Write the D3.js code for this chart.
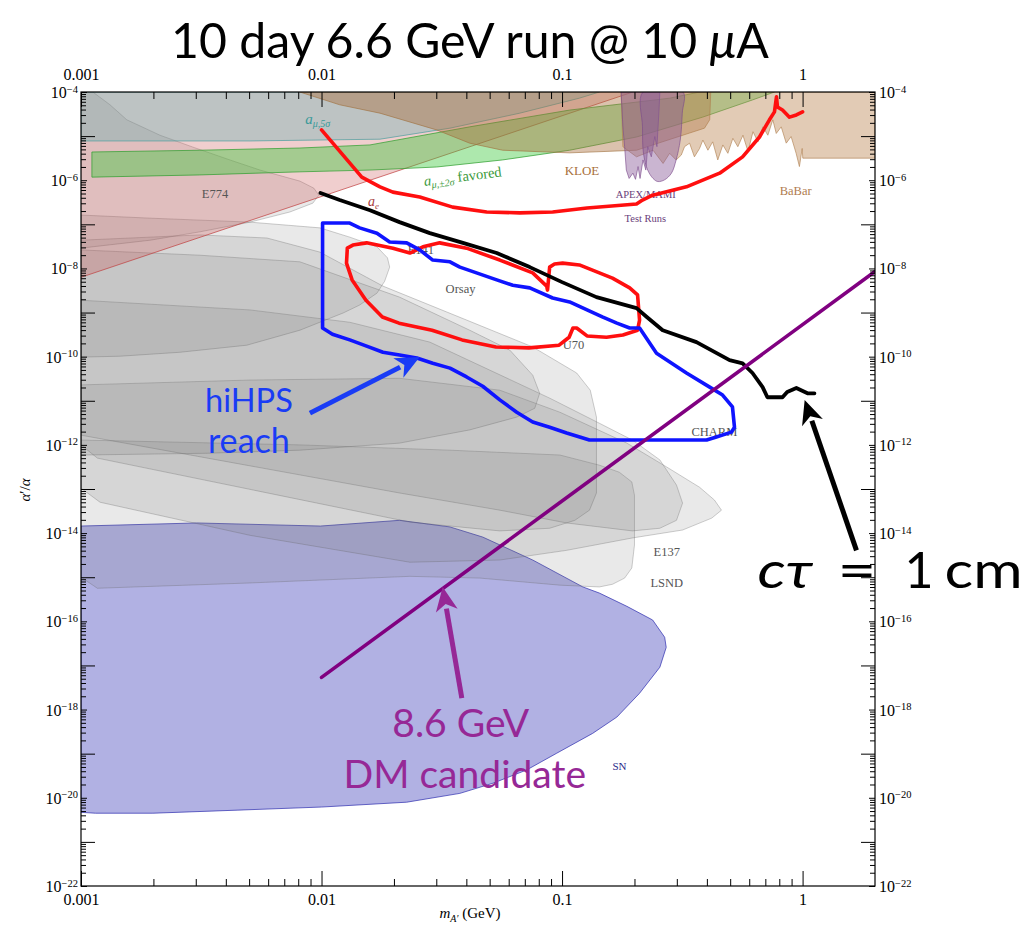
<!DOCTYPE html>
<html>
<head>
<meta charset="utf-8">
<script src="https://cdn.jsdelivr.net/npm/d3@7"></script>
<style>
  body { margin: 0; background: #fff; }
  text { font-family: "Liberation Serif", "DejaVu Serif", serif; }
  .gill { font-family: Lato, "Open Sans", sans-serif; }
</style>
</head>
<body>
<svg id="chart" width="1029" height="932"></svg>
<script>
// ---- Data: dark photon parameter space, mass m_A' in GeV, coupling as log10(alpha'/alpha) ----

const massMajorTicks = [0.001, 0.01, 0.1, 1];
const massTickLabels = ["0.001", "0.01", "0.1", "1"];
const couplingLabelExponents = [-4, -6, -8, -10, -12, -14, -16, -18, -20, -22];

// Existing constraints (closed outlines) [mass GeV, log10 alpha'/alpha]
const aeRegion = [[0.001, -4.0], [0.197, -4.0], [0.001, -8.2]];
const aeBoundary = [[0.001, -8.2], [0.197, -4.0]];

const amu5sigma = [[0.001, -4.0], [0.143, -4.0], [0.118, -4.14], [0.0667, -4.48], [0.0342, -4.82],
  [0.0175, -5.07], [0.00504, -5.11], [0.001, -5.11]];

const amuFavored = [[0.00111, -5.36], [0.00312, -5.32], [0.00813, -5.27], [0.0159, -5.20], [0.0413, -4.79],
  [0.1075, -4.41], [0.280, -4.14], [0.373, -4.0], [0.764, -4.0], [0.619, -4.18], [0.384, -4.57],
  [0.204, -5.02], [0.1075, -5.32], [0.0566, -5.54], [0.0301, -5.70], [0.0159, -5.77], [0.00813, -5.81],
  [0.00312, -5.88], [0.00111, -5.93]];

const kloeRegion = [[0.00812, -4.0], [0.0119, -4.29], [0.0175, -4.48], [0.0301, -4.86], [0.0413, -5.16],
  [0.0566, -5.32], [0.1075, -5.38], [0.204, -5.32], [0.339, -4.93], [0.391, -4.82], [0.411, -4.63], [0.415, -4.0]];

const babarRegion = [[0.176, -4.0], [0.179, -5.24], [0.204, -5.47], [0.239, -5.32], [0.263, -5.62], [0.280, -5.39],
  [0.298, -5.54], [0.313, -5.43], [0.323, -5.24], [0.339, -5.16], [0.355, -5.47], [0.373, -5.28], [0.385, -5.09],
  [0.404, -5.32], [0.423, -5.13], [0.444, -5.54], [0.466, -5.20], [0.489, -5.39], [0.513, -5.05], [0.538, -5.24],
  [0.565, -4.98], [0.593, -5.35], [0.622, -4.90], [0.652, -5.13], [0.684, -4.79], [0.717, -4.98], [0.752, -4.63],
  [0.777, -4.94], [0.815, -4.79], [0.855, -5.16], [0.896, -5.01], [0.940, -5.39], [0.970, -5.69], [0.996, -5.28],
  [1.002, -5.50], [2.0, -5.50], [2.0, -4.0]];

const apexRegion = [[0.176, -4.0], [0.179, -4.79], [0.182, -5.24], [0.185, -5.77], [0.190, -5.96], [0.197, -5.84],
  [0.202, -5.98], [0.207, -5.69], [0.211, -5.96], [0.217, -5.54], [0.223, -5.77], [0.227, -5.24], [0.235, -5.47],
  [0.243, -5.01], [0.248, -5.24], [0.253, -4.41], [0.255, -4.0]];

const mamiRegion = [[0.217, -4.0], [0.216, -4.79], [0.218, -5.39], [0.227, -5.77], [0.239, -5.96], [0.250, -6.03],
  [0.267, -5.99], [0.285, -5.84], [0.298, -5.54], [0.310, -5.09], [0.316, -4.48], [0.318, -4.0]];

const snRegion = [[0.001, -13.84], [0.00303, -13.77], [0.0099, -13.84], [0.0211, -13.71], [0.0342, -13.86],
  [0.0468, -14.09], [0.0755, -14.61], [0.122, -15.22], [0.143, -15.36], [0.186, -15.66], [0.238, -15.97],
  [0.267, -16.36], [0.271, -16.59], [0.255, -17.04], [0.210, -17.63], [0.169, -18.17], [0.134, -18.54],
  [0.095, -18.99], [0.0712, -19.37], [0.0516, -19.67], [0.0376, -19.90], [0.0226, -20.10], [0.0100, -20.21],
  [0.00449, -20.28], [0.00199, -20.35], [0.00115, -20.35], [0.001, -20.33]];

// Beam-dump exclusions
const e774Region = [[0.001, -4.0], [0.00112, -4.0], [0.00132, -4.29], [0.00155, -4.63], [0.00213, -4.98],
  [0.00292, -5.25], [0.00416, -5.54], [0.00555, -5.77], [0.00813, -6.02], [0.00929, -6.18], [0.00975, -6.34],
  [0.0092, -6.52], [0.00739, -6.72], [0.00504, -6.95], [0.00312, -7.17], [0.00194, -7.36], [0.0012, -7.49], [0.001, -7.54]];

const e141Region = [[0.001, -6.79], [0.00194, -6.86], [0.00504, -6.95], [0.00985, -7.08], [0.0131, -7.29],
  [0.0170, -7.51], [0.0188, -7.76], [0.0192, -7.97], [0.0183, -8.29], [0.0170, -8.56], [0.0144, -8.83],
  [0.0123, -9.01], [0.00813, -9.40], [0.00489, -9.74], [0.00258, -9.90], [0.00145, -9.99], [0.001, -10.01]];

const orsayRegion = [[0.001, -7.58], [0.00312, -7.70], [0.00813, -7.85], [0.0211, -8.65], [0.0413, -9.40],
  [0.0606, -9.85], [0.0755, -10.42], [0.0807, -10.83], [0.077, -11.17], [0.0648, -11.37], [0.0413, -11.66],
  [0.0211, -11.96], [0.00813, -12.12], [0.00334, -12.19], [0.001, -12.23]];

const u70Region = [[0.001, -7.36], [0.00312, -7.24], [0.00593, -7.31], [0.00985, -7.63], [0.0180, -8.40],
  [0.0401, -9.17], [0.0755, -9.78], [0.115, -10.37], [0.131, -10.76], [0.139, -11.37], [0.139, -13.09],
  [0.130, -13.48], [0.113, -13.71], [0.0888, -13.89], [0.0551, -13.95], [0.0233, -13.75], [0.00117, -12.30], [0.001, -12.00]];

const charmRegion = [[0.001, -8.72], [0.00504, -8.94], [0.0131, -9.22], [0.0282, -9.67], [0.0888, -10.94], [0.143, -11.51],
  [0.196, -11.89], [0.255, -12.34], [0.299, -12.91], [0.317, -13.32], [0.299, -13.71], [0.255, -13.89],
  [0.196, -13.95], [0.1045, -13.77], [0.0551, -13.48], [0.0211, -13.09], [0.001, -11.78]];

const e137Region = [[0.001, -10.64], [0.00504, -10.53], [0.0211, -10.49], [0.0551, -10.76], [0.098, -11.26], [0.186, -11.96],
  [0.272, -12.50], [0.373, -12.96], [0.430, -13.25], [0.460, -13.48], [0.419, -13.66], [0.317, -13.93],
  [0.196, -14.11], [0.1045, -14.39], [0.0551, -14.61], [0.0233, -14.66], [0.00504, -14.05], [0.0012, -13.30], [0.001, -12.98]];

const lsndRegion = [[0.001, -11.89], [0.00813, -12.0], [0.0342, -12.12], [0.098, -12.23], [0.143, -12.46],
  [0.173, -12.62], [0.195, -12.84], [0.200, -13.14], [0.200, -14.27], [0.195, -14.79], [0.182, -15.02],
  [0.162, -15.16], [0.143, -15.22], [0.098, -15.18], [0.0456, -15.02], [0.0233, -14.98], [0.00504, -15.13],
  [0.00117, -15.25], [0.001, -15.00]];

// Projected reaches
const hpsUpperReach = [[0.0100, -4.86], [0.0147, -5.93], [0.0175, -6.15], [0.0198, -6.27], [0.0256, -6.38],
  [0.0351, -6.61], [0.0486, -6.72], [0.0667, -6.74], [0.0914, -6.72], [0.127, -6.63], [0.204, -6.54],
  [0.216, -6.45], [0.238, -6.34], [0.329, -6.15], [0.452, -5.84], [0.563, -5.47], [0.662, -5.02],
  [0.728, -4.63], [0.764, -4.45], [0.779, -4.11], [0.786, -4.34], [0.825, -4.41], [0.882, -4.57],
  [0.942, -4.52], [1.0, -4.45]];

const hpsDisplacedReach = [[0.0135, -7.47], [0.0154, -7.42], [0.0198, -7.54], [0.0233, -7.65], [0.0264, -7.51],
  [0.0310, -7.42], [0.0401, -7.54], [0.0551, -7.81], [0.0755, -8.10], [0.0863, -8.40], [0.087, -8.49],
  [0.0888, -7.97], [0.093, -7.90], [0.1006, -7.88], [0.118, -7.92], [0.162, -8.22], [0.191, -8.44],
  [0.206, -8.60], [0.210, -9.17], [0.206, -9.40], [0.179, -9.51], [0.153, -9.56], [0.127, -9.53],
  [0.115, -9.35], [0.111, -9.35], [0.107, -9.56], [0.0972, -9.74], [0.0728, -9.80], [0.0531, -9.78],
  [0.0384, -9.62], [0.0288, -9.40], [0.0210, -9.24], [0.0179, -9.10], [0.0153, -8.72], [0.0134, -8.26],
  [0.0127, -7.88], [0.0128, -7.54]];

const hiHpsReach = [[0.0101, -6.97], [0.0131, -6.97], [0.0144, -7.08], [0.0170, -7.20], [0.0192, -7.40],
  [0.0226, -7.42], [0.0256, -7.58], [0.0290, -7.81], [0.0342, -7.85], [0.0376, -7.97], [0.0441, -8.10],
  [0.0535, -8.26], [0.0624, -8.38], [0.0734, -8.44], [0.0914, -8.67], [0.1075, -8.76], [0.127, -8.94],
  [0.147, -9.10], [0.169, -9.24], [0.191, -9.35], [0.210, -9.35], [0.247, -9.92], [0.329, -10.37],
  [0.411, -10.69], [0.465, -10.87], [0.511, -11.14], [0.521, -11.60], [0.506, -11.71], [0.438, -11.82],
  [0.399, -11.89], [0.130, -11.89], [0.1045, -11.73], [0.0888, -11.60], [0.0755, -11.48], [0.0648, -11.26],
  [0.0551, -10.98], [0.0468, -10.67], [0.0401, -10.46], [0.0342, -10.26], [0.0290, -10.15], [0.0249, -10.03],
  [0.0211, -9.96], [0.0180, -9.90], [0.0154, -9.76], [0.0131, -9.62], [0.0111, -9.49], [0.0101, -9.35]];

const ctau1cm = [[0.0099, -6.29], [0.0119, -6.45], [0.0159, -6.68], [0.0211, -6.95], [0.0282, -7.20],
  [0.0387, -7.42], [0.0535, -7.65], [0.0734, -7.97], [0.100, -8.31], [0.139, -8.65], [0.204, -8.90],
  [0.225, -9.10], [0.262, -9.40], [0.362, -9.67], [0.497, -10.08], [0.563, -10.15], [0.619, -10.37],
  [0.682, -10.69], [0.714, -10.92], [0.825, -10.92], [0.863, -10.80], [0.942, -10.71], [1.048, -10.83], [1.12, -10.83]];

const dmCandidate = [[0.01, -17.27], [2.0, -8.07]];

// Region labels: [text, mass, log10 coupling]
const regionLabels = [
  ["E774", 0.00318, -6.40], ["E141", 0.0228, -7.67], ["Orsay", 0.0328, -8.56], ["U70", 0.1006, -9.83],
  ["CHARM", 0.345, -11.80], ["E137", 0.240, -14.52], ["LSND", 0.233, -15.22]
];

// Annotation arrows [tail, tip]
const hiHpsArrow = [[0.00895, -11.28], [0.0256, -10.01]];
const dmArrow = [[0.0383, -17.74], [0.0319, -15.22]];
const ctauArrow = [[1.675, -14.39], [1.02, -10.98]];

// ---- Scales ----
const plot = { left: 81, right: 875, top: 92, bottom: 886 };
const x = d3.scaleLog().domain([0.001, 2]).range([plot.left, plot.right]);
const y = d3.scaleLog().domain([1e-22, 1e-4]).range([plot.bottom, plot.top]);
const P = d => [x(d[0]), y(Math.pow(10, d[1]))];

const svg = d3.select("#chart");
svg.append("rect").attr("width", 1029).attr("height", 932).attr("fill", "#fff");
svg.append("defs").append("clipPath").attr("id", "plotClip")
  .append("rect").attr("x", plot.left).attr("y", plot.top)
  .attr("width", plot.right - plot.left).attr("height", plot.bottom - plot.top);

const g = svg.append("g").attr("clip-path", "url(#plotClip)");

const linearClosed = d3.line().curve(d3.curveLinearClosed);
const smoothClosed = d3.line().curve(d3.curveCatmullRomClosed.alpha(0.5));
const openLine = d3.line();

function region(data, opts) {
  const gen = opts.smooth ? smoothClosed : linearClosed;
  g.append("path").attr("d", gen(data.map(P)))
    .attr("fill", opts.fill).attr("fill-opacity", opts.fo)
    .attr("stroke", opts.stroke || "none").attr("stroke-opacity", opts.so == null ? 1 : opts.so)
    .attr("stroke-width", opts.sw || 0.8).attr("stroke-linejoin", "round");
}

// Supernova bound
region(snRegion, { fill: "#6464c8", fo: 0.5, stroke: "#3030b0", so: 0.8, sw: 0.9 });

// Beam dumps (gray)
const grayStyle = { fill: "#777", fo: 0.16, stroke: "#666", so: 0.4, sw: 0.8 };
[lsndRegion, e137Region, charmRegion, u70Region, orsayRegion, e141Region, e774Region]
  .forEach(r => region(r, grayStyle));

// Electron and muon g-2
region(aeRegion, { fill: "#c85050", fo: 0.28 });
g.append("path").attr("d", openLine(aeBoundary.map(P))).attr("fill", "none")
  .attr("stroke", "#c04040").attr("stroke-width", 0.9).attr("stroke-opacity", 0.8);
region(amu5sigma, { fill: "#50aaaa", fo: 0.32, stroke: "#4f9f9f", so: 0.8, sw: 0.9 });
region(amuFavored, { fill: "#3cc83c", fo: 0.42, stroke: "#2e9e2e", so: 0.8, sw: 0.9 });

// Collider searches
region(kloeRegion, { fill: "#aa6e3c", fo: 0.42, stroke: "#a0703c", so: 0.7, sw: 0.9 });
region(babarRegion, { fill: "#be8c5a", fo: 0.45, stroke: "#b08050", so: 0.7, sw: 0.9 });

// APEX / MAMI test runs
region(apexRegion, { fill: "#8a5a9a", fo: 0.45, stroke: "#7a4a8a", so: 0.7, sw: 0.9 });
region(mamiRegion, { fill: "#8a5a9a", fo: 0.45, stroke: "#7a4a8a", so: 0.7, sw: 0.9, smooth: true });

// ---- Region labels ----
const lab = svg.append("g");
regionLabels.forEach(([t, m, e]) => {
  const p = P([m, e]);
  lab.append("text").attr("x", p[0]).attr("y", p[1]).attr("font-size", 12.5).attr("fill", "#555").text(t);
});
{
  const p = P([0.1025, -5.88]);
  lab.append("text").attr("x", p[0]).attr("y", p[1]).attr("font-size", 13).attr("fill", "#a8703c").text("KLOE");
  const q = P([0.803, -6.34]);
  lab.append("text").attr("x", q[0]).attr("y", q[1]).attr("font-size", 12.5).attr("fill", "#b07c50").text("BaBar");
  const r = P([0.167, -6.40]);
  lab.append("text").attr("x", r[0]).attr("y", r[1]).attr("font-size", 10.5).attr("fill", "#6a3d7a").text("APEX/MAMI");
  const s = P([0.182, -6.95]);
  lab.append("text").attr("x", s[0]).attr("y", s[1]).attr("font-size", 10.5).attr("fill", "#6a3d7a").text("Test Runs");
  const sn = P([0.162, -19.37]);
  lab.append("text").attr("x", sn[0]).attr("y", sn[1]).attr("font-size", 11).attr("fill", "#2a2a8a").text("SN");

  const a5 = P([0.00855, -4.73]);
  const t5 = lab.append("text").attr("x", a5[0]).attr("y", a5[1]).attr("fill", "#3a9a9a").attr("font-size", 15);
  t5.append("tspan").attr("font-style", "italic").text("a");
  t5.append("tspan").attr("font-size", 10).attr("dy", 3).attr("font-style", "italic").text("μ,5σ");

  const a2 = P([0.0268, -6.13]);
  const t2 = lab.append("text").attr("transform", `translate(${a2[0]},${a2[1]}) rotate(-7)`)
    .attr("fill", "#3a9a3a").attr("font-size", 14.5);
  t2.append("tspan").attr("font-style", "italic").text("a");
  t2.append("tspan").attr("font-size", 10).attr("dy", 3).attr("font-style", "italic").text("μ,±2σ");
  t2.append("tspan").attr("dy", -3).text(" favored");

  const ae = P([0.0156, -6.59]);
  const te = lab.append("text").attr("x", ae[0]).attr("y", ae[1]).attr("fill", "#a84040").attr("font-size", 14);
  te.append("tspan").attr("font-style", "italic").text("a");
  te.append("tspan").attr("font-size", 9).attr("dy", 3).attr("font-style", "italic").text("e");
}

// ---- Reach curves ----
const lines = svg.append("g").attr("clip-path", "url(#plotClip)");
function curve(data, color, w, closed) {
  const gen = closed ? linearClosed : openLine;
  lines.append("path").attr("d", gen(data.map(P))).attr("fill", "none")
    .attr("stroke", color).attr("stroke-width", w).attr("stroke-linejoin", "round").attr("stroke-linecap", "round");
}
curve(hpsUpperReach, "#ff0f0f", 3.6, false);
curve(hpsDisplacedReach, "#ff0f0f", 3.6, true);
curve(hiHpsReach, "#0f14ff", 3.6, true);
curve(ctau1cm, "#000", 3.8, false);
curve(dmCandidate, "#800080", 3.6, false);

// ---- Axes ----
const axes = svg.append("g");
function minorsBetween(lo, hi) {
  const out = [];
  for (let k = Math.round(Math.log10(lo)); k < Math.round(Math.log10(hi)) + 1; k++) {
    for (let j = 2; j <= 9; j++) {
      const v = j * Math.pow(10, k);
      if (v > lo && v < hi) out.push(v);
    }
  }
  return out;
}
const xMinor = minorsBetween(0.001, 2);
const yMinor = minorsBetween(1e-22, 1e-4);
const yOdd = d3.range(-21, -4, 2).map(k => Math.pow(10, k));
const yEven = couplingLabelExponents.map(k => Math.pow(10, k));

function addAxis(axisGen, transform) {
  const a = axes.append("g").attr("transform", transform).call(axisGen);
  a.select(".domain").remove();
  a.selectAll("line").attr("stroke", "#000").attr("stroke-width", 1);
  return a;
}
// bottom/top
[[d3.axisBottom, `translate(0,${plot.bottom})`, 8], [d3.axisTop, `translate(0,${plot.top})`, 12]].forEach(([ax, tr, pad]) => {
  addAxis(ax(x).tickValues(xMinor).tickSizeInner(-7).tickSizeOuter(0).tickFormat(""), tr);
  const a = addAxis(ax(x).tickValues(massMajorTicks).tickSizeInner(-15).tickSizeOuter(0)
    .tickPadding(pad).tickFormat((d, i) => massTickLabels[i]), tr);
  a.selectAll("text").attr("font-family", "Liberation Serif, serif").attr("font-size", 16).attr("fill", "#000");
});
// left/right
[[d3.axisLeft, `translate(${plot.left},0)`], [d3.axisRight, `translate(${plot.right},0)`]].forEach(([ax, tr]) => {
  addAxis(ax(y).tickValues(yMinor).tickSizeInner(-5).tickSizeOuter(0).tickFormat(""), tr);
  addAxis(ax(y).tickValues(yEven).tickSizeInner(-6).tickSizeOuter(0).tickFormat(""), tr);
  addAxis(ax(y).tickValues(yOdd).tickSizeInner(-14).tickSizeOuter(0).tickFormat(""), tr);
});
axes.append("rect").attr("x", plot.left).attr("y", plot.top)
  .attr("width", plot.right - plot.left).attr("height", plot.bottom - plot.top)
  .attr("fill", "none").attr("stroke", "#000").attr("stroke-width", 1.2);

// power-of-ten labels
couplingLabelExponents.forEach(k => {
  const yy = y(Math.pow(10, k));
  const L = axes.append("text").attr("x", plot.left - 3).attr("y", yy + 6)
    .attr("text-anchor", "end").attr("font-size", 16);
  L.append("tspan").text("10");
  L.append("tspan").attr("font-size", 10.5).attr("dy", -5.5).text("−" + Math.abs(k));
  const R = axes.append("text").attr("x", plot.right + 4).attr("y", yy + 6).attr("font-size", 16);
  R.append("tspan").text("10");
  R.append("tspan").attr("font-size", 10.5).attr("dy", -5.5).text("−" + Math.abs(k));
});

// axis titles
{
  const t = axes.append("text").attr("x", 470).attr("y", 918).attr("text-anchor", "middle").attr("font-size", 15);
  t.append("tspan").attr("font-style", "italic").text("m");
  t.append("tspan").attr("font-style", "italic").attr("font-size", 10).attr("dy", 4).text("A′");
  t.append("tspan").attr("dy", -4).text(" (GeV)");
  const v = axes.append("text").attr("transform", "translate(30,490) rotate(-90)")
    .attr("text-anchor", "middle").attr("font-size", 15);
  v.append("tspan").attr("font-style", "italic").text("α");
  v.append("tspan").text("′/");
  v.append("tspan").attr("font-style", "italic").text("α");
}

// ---- Annotations ----
const ann = svg.append("g");
function fitWidth(sel, width) {
  const len = sel.node().getComputedTextLength();
  const fs = parseFloat(sel.attr("font-size"));
  sel.attr("font-size", fs * width / len);
}
function arrow(data, color, w, headLen, headHalf) {
  const [a, b] = data.map(P);
  const dx = b[0] - a[0], dy = b[1] - a[1], L = Math.hypot(dx, dy);
  const ux = dx / L, uy = dy / L;
  const base = [b[0] - ux * headLen, b[1] - uy * headLen];
  ann.append("line").attr("x1", a[0]).attr("y1", a[1]).attr("x2", base[0] + ux * 2).attr("y2", base[1] + uy * 2)
    .attr("stroke", color).attr("stroke-width", w);
  ann.append("path").attr("d", d3.line()([b,
    [base[0] - uy * headHalf, base[1] + ux * headHalf],
    [b[0] - ux * headLen * 0.72, b[1] - uy * headLen * 0.72],
    [base[0] + uy * headHalf, base[1] - ux * headHalf]]) + "Z").attr("fill", color);
}

// title
{
  const t = ann.append("text").attr("class", "gill").attr("x", 470).attr("y", 58)
    .attr("text-anchor", "middle").attr("font-size", 44).attr("fill", "#000");
  t.append("tspan").text("10 day 6.6 GeV run @ 10 ");
  t.append("tspan").attr("font-style", "italic").text("μ");
  t.append("tspan").text("A");
  fitWidth(t, 598);
}

// hiHPS reach
{
  const p1 = P([0.00499, -11.26]), p2 = P([0.00499, -12.19]);
  const a = ann.append("text").attr("class", "gill").attr("x", p1[0]).attr("y", p1[1])
    .attr("text-anchor", "middle").attr("font-size", 36).attr("fill", "#1a3cf5").text("hiHPS");
  fitWidth(a, 88);
  const b = ann.append("text").attr("class", "gill").attr("x", p2[0]).attr("y", p2[1])
    .attr("text-anchor", "middle").attr("font-size", +a.attr("font-size")).attr("fill", "#1a3cf5").text("reach");
  fitWidth(b, 82);
  arrow(hiHpsArrow, "#1a3cf5", 5, 24, 11);
}

// DM candidate
{
  const p1 = P([0.0379, -18.63]), p2 = P([0.0394, -19.78]);
  const a = ann.append("text").attr("class", "gill").attr("x", p1[0]).attr("y", p1[1])
    .attr("text-anchor", "middle").attr("font-size", 40).attr("fill", "#962896").text("8.6 GeV");
  fitWidth(a, 137);
  ann.append("text").attr("class", "gill").attr("x", p2[0]).attr("y", p2[1])
    .attr("text-anchor", "middle").attr("font-size", +a.attr("font-size")).attr("fill", "#962896").text("DM candidate");
  arrow(dmArrow, "#962896", 5, 24, 11);
}

// c tau = 1 cm
{
  const p = P([0.65, -15.25]);
  const pieces = [["cτ", 0, 55, true], ["=", 80, 39, false], ["1", 147, 20, false], ["cm", 187, 78, false]];
  pieces.forEach(([txt, off, w, ital]) => {
    const t = ann.append("text").attr("class", "gill").attr("x", p[0] + off).attr("y", p[1])
      .attr("font-size", 50).attr("fill", "#000").attr("font-style", ital ? "italic" : null).text(txt);
    if (txt !== "1") t.attr("textLength", w).attr("lengthAdjust", "spacingAndGlyphs");
  });
  arrow(ctauArrow, "#000", 5, 24, 11);
}
</script>
</body>
</html>
